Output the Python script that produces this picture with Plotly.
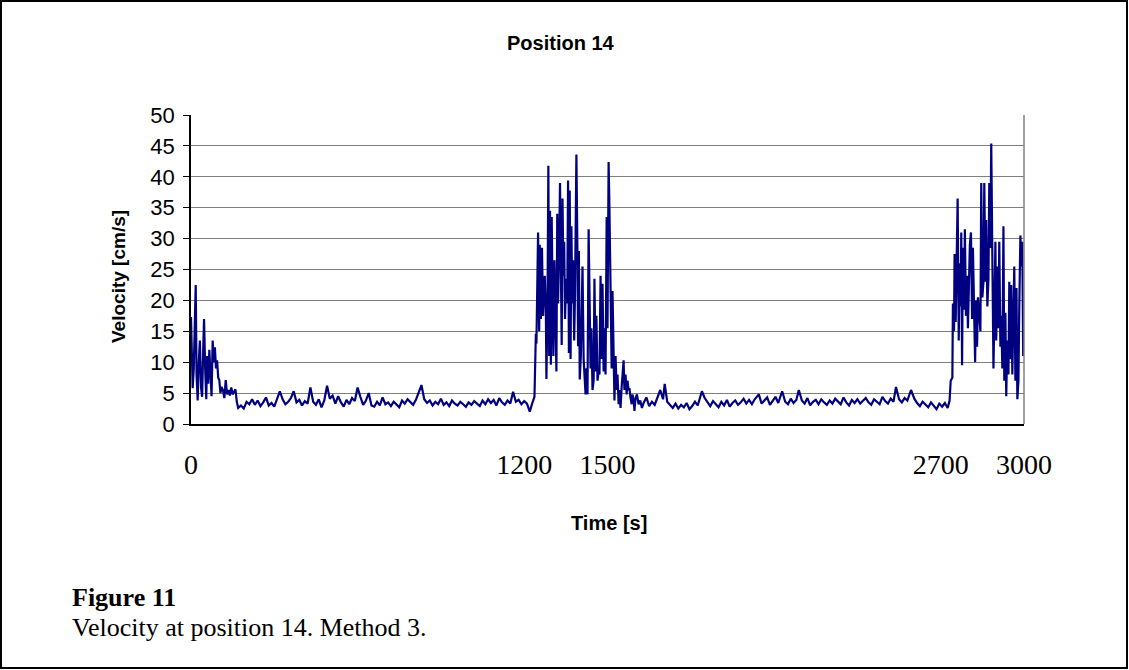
import plotly.graph_objects as go

# ---- data ----
start_t = [0, 3, 6, 10, 14, 17, 20, 24, 28, 32, 36, 40, 44, 47, 51, 55, 58, 62, 66, 70,
           74, 78, 82, 86, 90, 94, 98, 102, 106, 110, 115, 120, 125, 130, 135, 140, 145,
           150, 155, 160, 165, 170]
start_v = [17.3, 12.0, 5.8, 9.0, 16.0, 22.5, 8.0, 3.8, 10.0, 13.5, 6.0, 4.4, 12.0, 17.0,
           9.0, 4.0, 11.0, 6.5, 12.0, 8.0, 4.5, 13.5, 10.0, 12.4, 9.0, 10.3, 7.5, 7.1, 5.0,
           6.0, 5.5, 4.2, 7.1, 4.8, 5.5, 4.6, 5.9, 4.8, 5.2, 5.6, 3.6, 2.6]

quiet1_t = [180, 190, 200, 210, 220, 230, 240, 250, 260, 270, 280, 290, 300, 310, 320,
            330, 340, 350, 360, 370, 380, 390, 400, 410, 420, 430, 440, 450, 460, 470,
            480, 490, 500, 510, 520, 530, 540, 550, 560, 570, 580, 590, 600, 610, 620,
            630, 640, 650, 660, 670, 680, 690, 700, 710, 720, 730, 740, 750, 760, 770,
            780, 790, 800, 810, 820, 830, 840, 850, 860, 870, 880, 890, 900, 910, 920,
            930, 940, 950, 960, 970, 980, 990, 1000, 1010, 1020, 1030, 1040, 1050, 1060,
            1070, 1080, 1090, 1100, 1110, 1120, 1130, 1140, 1150, 1160, 1170, 1180, 1190,
            1200, 1210, 1220, 1230, 1237]
quiet1_v = [3.0, 2.5, 3.6, 3.2, 4.0, 3.1, 3.8, 2.9, 3.5, 4.3, 3.0, 3.4, 2.8, 3.9, 5.3,
            4.0, 3.2, 3.6, 4.2, 5.3, 3.5, 3.9, 3.0, 3.7, 3.3, 5.9, 3.6, 3.1, 4.0, 2.7,
            3.8, 6.2, 4.1, 4.6, 3.3, 4.5, 3.5, 2.8, 3.9, 3.2, 4.2, 3.7, 5.9, 4.4, 3.1,
            3.8, 5.0, 3.0, 2.8, 3.6, 3.0, 4.3, 3.2, 3.5, 2.9, 3.6, 3.1, 2.7, 3.8, 3.3,
            4.0, 3.5, 3.1, 3.9, 5.3, 6.3, 4.0, 3.4, 3.8, 3.0, 3.6, 3.2, 4.1, 3.1, 3.5,
            2.9, 3.8, 3.3, 3.0, 3.6, 3.2, 2.8, 3.5, 3.1, 3.7, 3.3, 2.9, 3.8, 3.2,
            4.0, 3.4, 3.9, 3.0, 4.2, 3.5, 3.1, 3.8, 3.3, 5.2, 3.6, 3.9, 3.2,
            3.7, 3.3, 2.0, 3.5, 4.4]

burst1_t = [1242, 1244, 1250, 1254, 1256, 1260, 1264, 1268, 1274, 1278, 1280, 1284, 1287,
            1290, 1293, 1296, 1299, 1303, 1305, 1309, 1313, 1316, 1319, 1322, 1326, 1329,
            1333, 1335, 1338, 1341, 1344, 1347, 1351, 1355, 1358, 1361, 1364, 1367, 1370,
            1373, 1376, 1380, 1383, 1388, 1392, 1394, 1397, 1400, 1404, 1410, 1414, 1418,
            1421, 1424, 1428, 1432, 1435, 1439, 1442, 1446, 1450, 1453, 1457, 1460, 1464,
            1468, 1471, 1475, 1479, 1482, 1486, 1489, 1493, 1497, 1500, 1504, 1507, 1511,
            1515, 1518, 1522, 1525, 1529, 1533, 1536, 1540, 1543, 1547, 1551, 1554, 1558,
            1561, 1565, 1569, 1572, 1576, 1579, 1583, 1587, 1590, 1594, 1597, 1601, 1606,
            1612, 1618, 1624]
burst1_v = [14.6, 13.0, 31.0, 15.0, 29.0, 17.0, 28.5, 17.5, 24.0, 18.5, 7.3, 20.0, 41.8,
            11.0, 34.5, 9.6, 33.5, 18.0, 11.0, 26.5, 19.0, 8.5, 34.0, 19.5, 29.5, 39.0,
            21.5, 12.8, 36.5, 24.0, 29.5, 17.0, 23.5, 19.5, 39.4, 11.5, 37.8, 10.5, 32.0,
            19.5, 26.5, 13.5, 21.0, 43.6, 26.5, 12.6, 28.0, 7.2, 11.0, 25.5, 10.5, 8.0,
            4.8, 9.0, 4.8, 31.5, 19.0, 9.0, 15.5, 5.5, 7.0, 23.5, 8.5, 17.5, 7.0,
            8.5, 8.0, 24.0, 10.5, 22.7, 8.5, 15.5, 8.0, 33.5, 15.5, 42.4, 35.0, 23.0,
            9.0, 21.5, 11.5, 3.8, 11.0, 5.5, 8.0, 3.2, 5.5, 2.6, 6.0, 8.0, 10.3,
            5.5, 8.0, 4.8, 7.0, 5.5, 5.8, 4.2, 3.2, 4.8, 3.8, 2.1, 4.2, 4.8,
            3.2, 3.8, 2.6]

quiet2_t = [1630, 1640, 1650, 1660, 1670, 1680, 1690, 1700, 1706, 1715, 1725, 1735, 1745,
            1755, 1765, 1775, 1785, 1795, 1805, 1815, 1825, 1840, 1850, 1860, 1870, 1880,
            1890, 1900, 1910, 1920, 1930, 1940, 1950, 1960, 1970, 1980, 1990, 2000, 2010,
            2020, 2030, 2045, 2055, 2065, 2075, 2085, 2095, 2105, 2115, 2129, 2140, 2150,
            2160, 2170, 2180, 2189, 2200, 2210, 2220, 2230, 2240, 2250, 2260, 2270, 2280,
            2290, 2300, 2310, 2320, 2330, 2340, 2350, 2360, 2370, 2380, 2390, 2400, 2410,
            2420, 2430, 2440, 2450, 2460, 2470, 2480, 2490, 2500, 2510, 2520, 2530, 2539,
            2550, 2560, 2570, 2580, 2593, 2605, 2615, 2625, 2635, 2645, 2655, 2665, 2675,
            2685, 2695, 2705, 2715, 2725, 2732]
quiet2_v = [3.4, 4.3, 2.9, 3.6, 3.1, 4.2, 5.5, 4.0, 6.5, 3.6, 3.0, 2.6, 3.3, 2.5, 3.1,
            2.7, 3.4, 2.4, 2.9, 3.6, 3.0, 5.3, 4.2, 3.5, 2.9, 3.7, 3.2, 2.7, 3.6, 3.0,
            3.9, 2.8, 3.4, 3.8, 3.1, 3.5, 4.1, 3.3, 3.9, 3.2, 4.0, 4.8, 3.3, 3.8, 4.3,
            3.1, 3.7, 4.4, 3.4, 5.3, 3.6, 3.2, 4.1, 3.4, 3.9, 5.5, 3.8, 3.3, 4.2,
            3.0, 3.6, 3.9, 3.2, 4.0, 3.5, 3.1, 3.8, 3.3, 4.1, 3.6, 3.2, 4.3, 3.5,
            3.0, 3.9, 3.4, 4.0, 3.3, 3.7, 4.2, 3.5, 3.1, 4.0, 3.6, 3.2, 4.4, 3.7,
            3.3, 4.1, 3.6, 6.0, 4.0, 3.5, 4.2, 3.8, 5.5, 4.1, 3.4, 2.9, 3.6, 3.2,
            2.7, 3.5, 3.0, 2.4, 3.3, 2.8, 3.4, 2.6, 3.8]

burst2_t = [2736, 2742, 2744, 2748, 2750, 2754, 2757, 2761, 2765, 2768, 2772, 2774, 2777,
            2780, 2784, 2787, 2791, 2795, 2798, 2802, 2805, 2809, 2813, 2816, 2820, 2824,
            2827, 2831, 2834, 2838, 2843, 2846, 2850, 2854, 2857, 2861, 2864, 2868, 2872,
            2875, 2879, 2882, 2886, 2890, 2893, 2897, 2900, 2904, 2908, 2911, 2915, 2918,
            2922, 2926, 2929, 2933, 2936, 2940, 2944, 2947, 2951, 2954, 2958, 2962, 2965,
            2969, 2973, 2976, 2980, 2983, 2987, 2991, 2994, 2997, 3000]
burst2_v = [7.0, 7.5, 19.5, 15.0, 27.5, 16.5, 23.0, 36.5, 13.5, 26.0, 19.0, 31.0, 9.5,
            28.5, 18.5, 31.5, 17.5, 24.0, 15.5, 24.0, 29.0, 31.0, 17.0, 28.5, 15.5, 10.0,
            20.0, 12.5, 20.5, 18.0, 15.0, 39.0, 20.5, 23.0, 39.0, 23.0, 33.0, 19.0, 23.5,
            39.0, 28.5, 45.4, 21.5, 9.0, 17.0, 29.5, 13.5, 25.5, 15.5, 29.5, 12.5, 17.5,
            9.0, 32.0, 7.0, 18.0, 4.5, 13.5, 8.0, 23.0, 10.5, 22.5, 8.0, 19.0, 25.5,
            7.0, 22.0, 4.0, 7.0, 19.0, 30.5, 25.5, 29.5, 11.0, 14.5]

time_s = start_t + quiet1_t + burst1_t + quiet2_t + burst2_t
velocity = start_v + quiet1_v + burst1_v + quiet2_v + burst2_v

x_ticks = [0, 1200, 1500, 2700, 3000]
y_ticks = [0, 5, 10, 15, 20, 25, 30, 35, 40, 45, 50]

title_text = "Position 14"
x_title = "Time [s]"
y_title = "Velocity [cm/s]"
caption_head = "Figure 11"
caption_body = "Velocity at position 14. Method 3."

# ---- geometry ----
W, H = 1129, 670
L, R, T, B = 191, 1024, 115, 424
pw, ph = R - L, B - T


def px(X):
    return (X - L) / pw


def py(Y):
    return (B - Y) / ph


fig = go.Figure()
fig.add_trace(go.Scatter(x=time_s, y=velocity, mode="lines",
                         line=dict(color="#000080", width=2.2), showlegend=False,
                         hoverinfo="x+y"))

fig.update_layout(
    width=W, height=H,
    margin=dict(l=L, r=W - R, t=T, b=H - B, pad=0),
    paper_bgcolor="white", plot_bgcolor="white",
    showlegend=False,
    xaxis=dict(range=[0, 3000], tickvals=x_ticks, ticktext=[str(v) for v in x_ticks],
               showgrid=False, zeroline=False, showline=True, linecolor="black",
               linewidth=1.5, ticks="", ticklabelstandoff=15,
               tickfont=dict(family="Liberation Serif", size=28, color="black")),
    yaxis=dict(range=[0, 50], tickvals=y_ticks, showgrid=True, gridcolor="#7f7f7f",
               gridwidth=1.3, zeroline=False, showline=True, linecolor="black",
               linewidth=1.5, ticks="outside", ticklen=6, tickcolor="black",
               tickwidth=1, ticklabelstandoff=4,
               tickfont=dict(family="Liberation Sans", size=22, color="black")),
)

shapes = [
    # right border of plot area
    dict(type="line", xref="paper", yref="paper", x0=1, x1=1, y0=0, y1=1,
         line=dict(color="#808080", width=1.5)),
    # outer frame
    dict(type="rect", xref="paper", yref="paper", x0=px(1), x1=px(1127),
         y0=py(668), y1=py(1), line=dict(color="black", width=2)),
]
fig.update_layout(shapes=shapes)

annotations = [
    dict(text="<b>" + title_text + "</b>", x=px(561), y=py(43), xref="paper",
         yref="paper", showarrow=False, xanchor="center", yanchor="middle",
         font=dict(family="Liberation Sans", size=20, color="black")),
    dict(text="<b>" + x_title + "</b>", x=px(609), y=py(523), xref="paper",
         yref="paper", showarrow=False, xanchor="center", yanchor="middle",
         font=dict(family="Liberation Sans", size=20, color="black")),
    dict(text="<b>" + y_title + "</b>", x=px(118), y=py(277), xref="paper",
         yref="paper", showarrow=False, xanchor="center", yanchor="middle",
         textangle=-90, font=dict(family="Liberation Sans", size=19, color="black")),
    dict(text="<b>" + caption_head + "</b>", x=px(70), y=py(597), xref="paper",
         yref="paper", showarrow=False, xanchor="left", yanchor="middle",
         font=dict(family="Liberation Serif", size=26, color="black")),
    dict(text=caption_body, x=px(70), y=py(627), xref="paper",
         yref="paper", showarrow=False, xanchor="left", yanchor="middle",
         font=dict(family="Liberation Serif", size=26, color="black")),
]
fig.update_layout(annotations=annotations)

fig.write_html("out.html", config={"displayModeBar": False},
               post_script="document.body.style.margin='0';")
